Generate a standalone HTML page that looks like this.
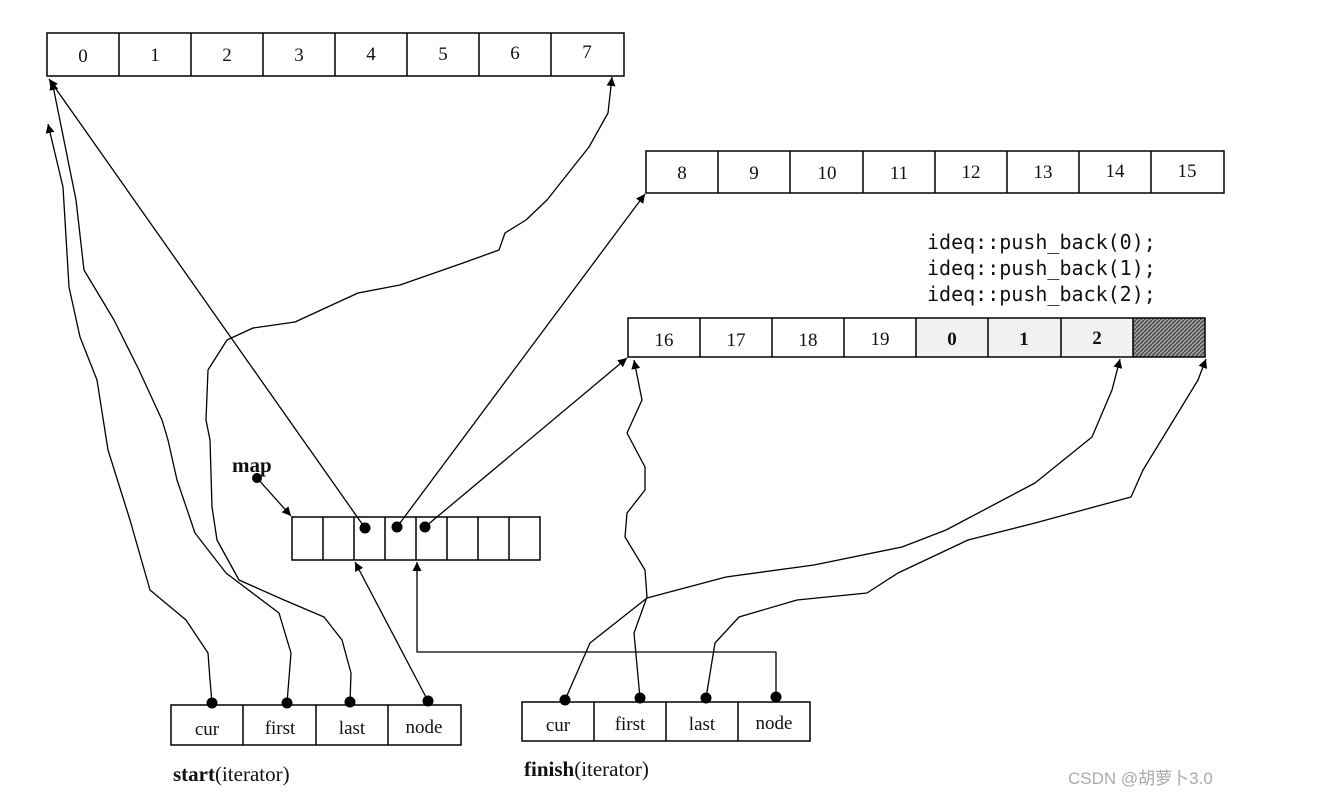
<!DOCTYPE html>
<html><head><meta charset="utf-8"><style>
html,body{margin:0;padding:0;background:#fff;width:1318px;height:800px;overflow:hidden}
svg{display:block}
.t{font-family:"Liberation Serif",serif;font-size:19px;fill:#111;text-anchor:middle}
.m{font-family:"DejaVu Sans Mono","Liberation Mono",monospace;font-size:20px;fill:#111}
</style></head><body>
<svg width="1318" height="800" viewBox="0 0 1318 800" xmlns="http://www.w3.org/2000/svg">
<defs>
<marker id="a" viewBox="0 0 10 10" refX="10" refY="5" markerWidth="9" markerHeight="9" markerUnits="userSpaceOnUse" orient="auto"><path d="M0,0 L10,5 L0,10 z" fill="#000"/></marker>
<pattern id="h" width="4" height="4" patternUnits="userSpaceOnUse"><rect width="4" height="4" fill="#999"/><path d="M0,4 L4,0" stroke="#444" stroke-width="1.2"/></pattern>
</defs>
<g fill="none" stroke="#000" stroke-width="1.5">
<!-- top array -->
<rect x="47" y="33" width="577" height="43" fill="#fff"/>
<path d="M119,33V76M191,33V76M263,33V76M335,33V76M407,33V76M479,33V76M551,33V76"/>
<!-- second array -->
<rect x="646" y="151" width="578" height="42" fill="#fff"/>
<path d="M718,151V193M790,151V193M863,151V193M935,151V193M1007,151V193M1079,151V193M1151,151V193"/>
<!-- third array -->
<rect x="916" y="318" width="217" height="39" fill="#f1f1f1" stroke="none"/>
<rect x="1133" y="318" width="72" height="39" fill="url(#h)" stroke="none"/>
<rect x="628" y="318" width="577" height="39"/>
<path d="M700,318V357M772,318V357M844,318V357M916,318V357M988,318V357M1061,318V357M1133,318V357"/>
<!-- map -->
<rect x="292" y="517" width="248" height="43" fill="#fff"/>
<path d="M323,517V560M354,517V560M385,517V560M416,517V560M447,517V560M478,517V560M509,517V560"/>
<!-- start iterator -->
<rect x="171" y="705" width="290" height="40"/>
<path d="M243,705V745M316,705V745M388,705V745"/>
<!-- finish iterator -->
<rect x="522" y="702" width="288" height="39"/>
<path d="M594,702V741M666,702V741M738,702V741"/>
</g>
<g class="t">
<text class="t" x="83" y="62">0</text><text class="t" x="155" y="61">1</text><text class="t" x="227" y="61">2</text><text class="t" x="299" y="61">3</text><text class="t" x="371" y="60">4</text><text class="t" x="443" y="60">5</text><text class="t" x="515" y="59">6</text><text class="t" x="587" y="58">7</text>
<text class="t" x="682" y="179">8</text><text class="t" x="754" y="179">9</text><text class="t" x="827" y="179">10</text><text class="t" x="899" y="179">11</text><text class="t" x="971" y="178">12</text><text class="t" x="1043" y="178">13</text><text class="t" x="1115" y="177">14</text><text class="t" x="1187" y="177">15</text>
<text class="t" x="664" y="346">16</text><text class="t" x="736" y="346">17</text><text class="t" x="808" y="346">18</text><text class="t" x="880" y="345">19</text><text class="t" x="952" y="345" font-weight="bold">0</text><text class="t" x="1024" y="345" font-weight="bold">1</text><text class="t" x="1097" y="344" font-weight="bold">2</text>
<text class="t" x="207" y="735">cur</text><text class="t" x="280" y="734">first</text><text class="t" x="352" y="734">last</text><text class="t" x="424" y="733">node</text>
<text class="t" x="558" y="731">cur</text><text class="t" x="630" y="730">first</text><text class="t" x="702" y="730">last</text><text class="t" x="774" y="729">node</text>
</g>
<text x="173" y="781" font-family="Liberation Serif,serif" font-size="21" fill="#111"><tspan font-weight="bold">start</tspan>(iterator)</text>
<text x="524" y="776" font-family="Liberation Serif,serif" font-size="21" fill="#111"><tspan font-weight="bold">finish</tspan>(iterator)</text>
<text x="232" y="472" font-family="Liberation Serif,serif" font-size="21" font-weight="bold" fill="#111">map</text>
<text class="m" x="927" y="249">ideq::push_back(0);</text>
<text class="m" x="927" y="275">ideq::push_back(1);</text>
<text class="m" x="927" y="301">ideq::push_back(2);</text>
<text x="1068" y="784" font-family="Liberation Sans,'Noto Sans CJK SC',sans-serif" font-size="17" fill="#aaa">CSDN @胡萝卜3.0</text>
<g fill="#000">
<circle cx="365" cy="528" r="5.5"/><circle cx="397" cy="527" r="5.5"/><circle cx="425" cy="527" r="5.5"/>
<circle cx="257" cy="478" r="5"/>
<circle cx="212" cy="703" r="5.5"/><circle cx="287" cy="703" r="5.5"/><circle cx="350" cy="702" r="5.5"/><circle cx="428" cy="701" r="5.5"/>
<circle cx="565" cy="700" r="5.5"/><circle cx="640" cy="698" r="5.5"/><circle cx="706" cy="698" r="5.5"/><circle cx="776" cy="697" r="5.5"/>
</g>
<g fill="none" stroke="#000" stroke-width="1.3" stroke-linejoin="round" marker-end="url(#a)">
<path d="M365,528 L49,79"/>
<path d="M397,527 L645,194"/>
<path d="M425,527 L627,358"/>
<path d="M257,478 L291,516"/>
<path d="M428,701 L355,562"/>
<path d="M776,697 V652 H417 V562"/>
<path d="M212,703 L210,680 L208,653 L186,620 L150,590 L130,520 L108,450 L97,380 L80,337 L69,287 L63,187 L48,124"/>
<path d="M287,703 L291,653 L279,613 L226,573 L195,533 L177,480 L168,440 L162,420 L139,370 L114,320 L84,270 L76,200 L52,81"/>
<path d="M350,702 L351,673 L342,640 L324,617 L284,600 L239,580 L217,540 L212,507 L210,440 L206,420 L208,370 L227,340 L253,328 L295,322 L358,293 L400,285 L463,263 L499,250 L505,233 L526,220 L547,200 L589,147 L608,113 L612,77"/>
<path d="M640,698 L634,633 L647,597 L645,570 L625,537 L627,513 L645,490 L645,467 L627,433 L642,400 L634,360"/>
<path d="M565,700 L590,643 L647,598 L726,577 L814,565 L902,547 L946,530 L1035,483 L1092,437 L1112,390 L1120,359"/>
<path d="M706,698 L715,643 L739,617 L797,600 L867,593 L898,573 L968,540 L1035,523 L1131,497 L1143,470 L1184,403 L1198,380 L1206,359"/>
</g>
</svg>
</body></html>
